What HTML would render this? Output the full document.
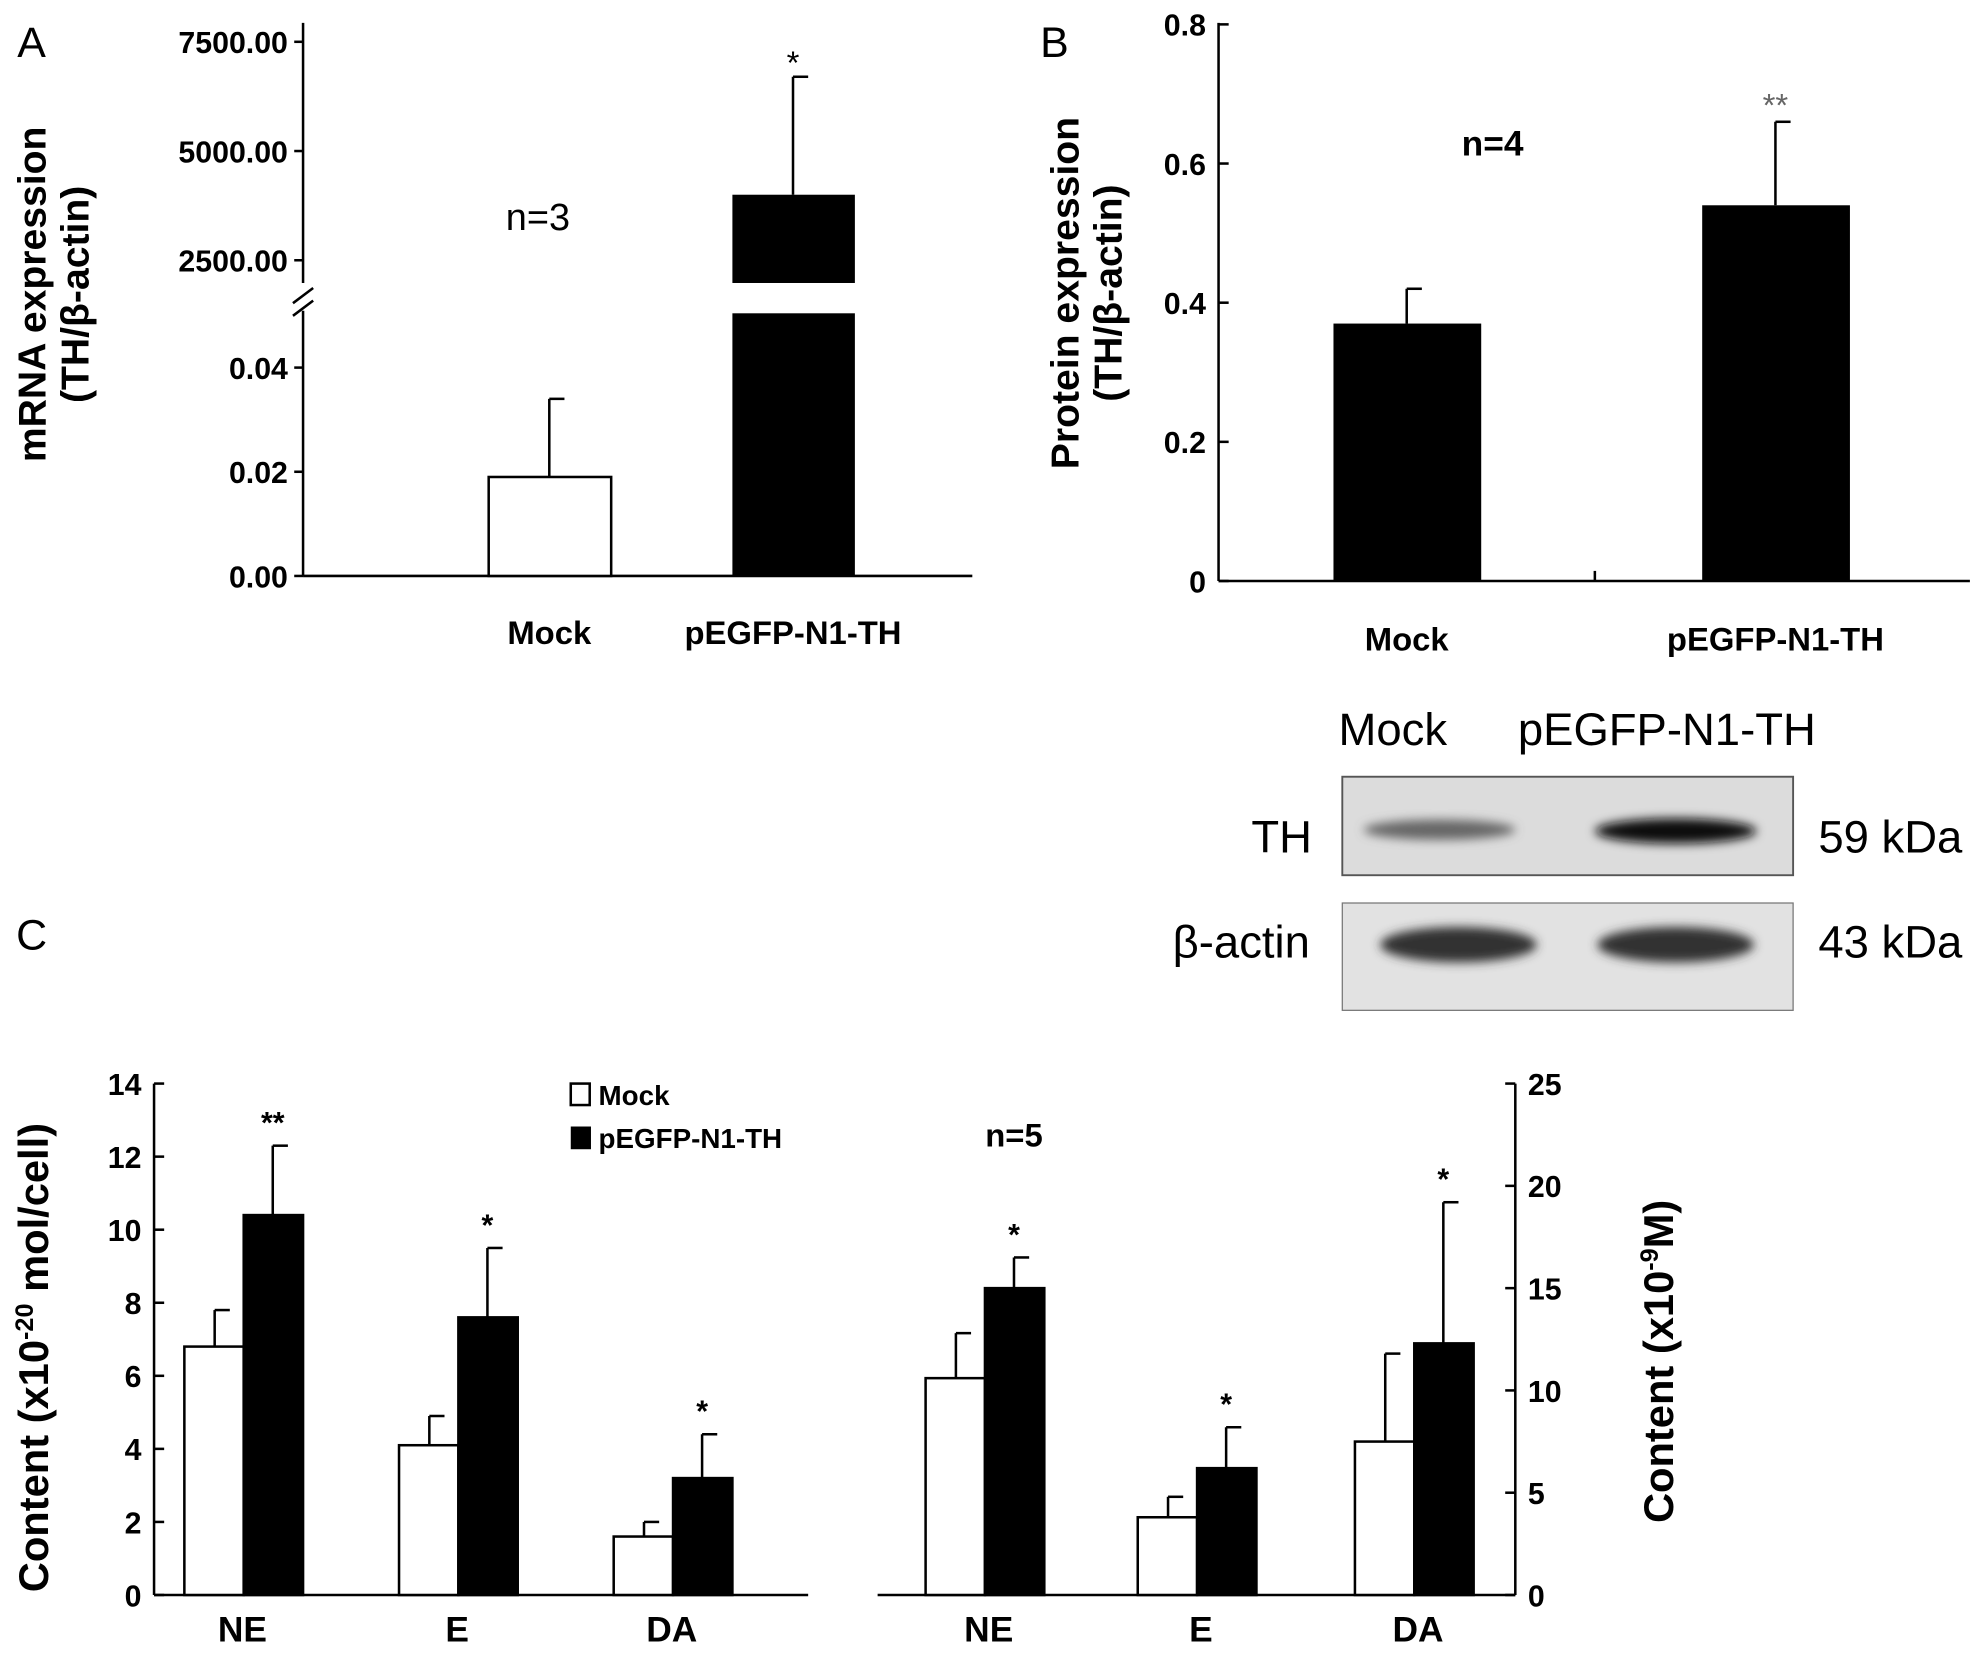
<!DOCTYPE html>
<html><head><meta charset="utf-8"><style>
html,body{margin:0;padding:0;background:#fff}
svg{display:block}
text{font-family:"Liberation Sans",Arial,sans-serif}
.b{font-weight:bold}
</style></head><body>
<svg id="s" width="1980" height="1657" viewBox="0 0 1568 1312" xmlns="http://www.w3.org/2000/svg">
<defs><filter id="bl" x="-20%" y="-50%" width="140%" height="200%"><feGaussianBlur stdDeviation="4"/></filter></defs>
<g id="g" stroke-linecap="butt"></g>
</svg>
<script>
// Panel A
const aCats=['Mock','pEGFP-N1-TH'];
const aLow=[0.019,0.05];
const aErrLow=[0.034,null];
const aHigh=[null,4000];
const aErrHigh=[null,6700];
const aLowTicks=[0,0.02,0.04];
const aHighTicks=[2500,5000,7500];
// Panel B
const bCats=['Mock','pEGFP-N1-TH'];
const bVals=[0.37,0.54];
const bErr=[0.42,0.66];
const bTicks=[0,0.2,0.4,0.6,0.8];
// Panel C
const cCats=['NE','E','DA'];
const cMockL=[6.8,4.1,1.6];
const cMockLErr=[7.8,4.9,2.0];
const cThL=[10.4,7.6,3.2];
const cThLErr=[12.3,9.5,4.4];
const cTicksL=[0,2,4,6,8,10,12,14];
const cMockR=[10.6,3.8,7.5];
const cMockRErr=[12.8,4.8,11.8];
const cThR=[15.0,6.2,12.3];
const cThRErr=[16.5,8.2,19.2];
const cTicksR=[0,5,10,15,20,25];

const NS='http://www.w3.org/2000/svg', G=document.getElementById('g');
function el(t,a,p){const e=document.createElementNS(NS,t);for(const k in a)e.setAttribute(k,a[k]);(p||G).appendChild(e);return e;}
function line(x1,y1,x2,y2,name,w){const e=el('line',{x1,y1,x2,y2,stroke:'#000','stroke-width':w||2});

return e;}
function txt(x,y,s,name,o){o=o||{};const e=el('text',{x,y,'font-size':o.fs||26,'text-anchor':o.a||'middle',class:o.b?'b':''});e.textContent=s;

return e;}
function rect(x,y,w,h,fill,name){const e=el('rect',{x,y,width:w,height:Math.max(0,h),fill,stroke:'#000','stroke-width':2});

return e;}
function errbar(cx,yTop,yBar,name){line(cx,yTop,cx,yBar,name);line(cx,yTop,cx+12,yTop,name+'-cap');}

// ---- Panel A ----
const yAL=v=>456-v*(456-291)/0.04;
const yAH=v=>206-(v-2500)*(206-33)/5000;
txt(25,45,'A','panel-a-label',{fs:34});
line(240,18,240,224,'a-y-axis-upper');line(240,246,240,456,'a-y-axis-lower');
line(232,240,248,228,'a-break-1');line(232,250,248,238,'a-break-2');
line(240,456,770,456,'a-x-axis');
aLowTicks.forEach(v=>{line(233,yAL(v),240,yAL(v),'a-tick');txt(228,yAL(v)+9,v.toFixed(2),'a-tick-label',{a:'end',b:1,fs:24});});
aHighTicks.forEach(v=>{line(233,yAH(v),240,yAH(v),'a-tick');txt(228,yAH(v)+9,v.toFixed(2),'a-tick-label',{a:'end',b:1,fs:24});});
{const t=txt(0,0,'mRNA expression','a-y-title',{b:1,fs:31});t.setAttribute('transform','translate(36,233) rotate(-90)');
const t2=txt(0,0,'(TH/β-actin)','a-y-title-2',{b:1,fs:31});t2.setAttribute('transform','translate(70,233) rotate(-90)');}
const aX=[435,628];
aCats.forEach((c,i)=>{
  const x=aX[i]-48;
  if(aHigh[i]==null){rect(x,yAL(aLow[i]),97,456-yAL(aLow[i]),'#fff','a-bar-mock');errbar(aX[i],yAL(aErrLow[i]),yAL(aLow[i]),'a-error-mock');}
  else{el('rect',{x,y:yAH(aHigh[i]),width:97,height:224-yAH(aHigh[i]),fill:'#000'});
       el('rect',{x,y:248,width:97,height:208,fill:'#000'});
       errbar(aX[i],yAH(aErrHigh[i]),yAH(aHigh[i]),'a-error-th');txt(aX[i],yAH(aErrHigh[i])-2,'*','a-sig',{fs:26});}
  txt(aX[i],510,c,'a-x-label',{b:1,fs:26});
});
txt(426,182,'n=3','a-n-label',{fs:30});

// ---- Panel B ----
const yB=v=>460-v*551;
txt(835,45,'B','panel-b-label',{fs:34});
line(965,18,965,460,'b-y-axis');line(965,460,1560,460,'b-x-axis');line(1263,460,1263,452,'b-x-tick');
bTicks.forEach(v=>{line(965,yB(v),973,yB(v),'b-tick');txt(955,yB(v)+9,v===0?'0':String(v),'b-tick-label',{a:'end',b:1,fs:24});});
{const t=txt(0,0,'Protein expression','b-y-title',{b:1,fs:31});t.setAttribute('transform','translate(854,232) rotate(-90)');
const t2=txt(0,0,'(TH/β-actin)','b-y-title-2',{b:1,fs:31});t2.setAttribute('transform','translate(888,232) rotate(-90)');}
const bX=[1114,1406];
bCats.forEach((c,i)=>{
  el('rect',{x:bX[i]-58,y:yB(bVals[i]),width:117,height:460-yB(bVals[i]),fill:'#000'});
  errbar(bX[i],yB(bErr[i]),yB(bVals[i]),'b-error-'+i);
  txt(bX[i],515,c,'b-x-label',{b:1,fs:26});
});
txt(1406,92,'**','b-sig',{fs:26}).setAttribute('fill','#666');
txt(1182,123,'n=4','b-n-label',{b:1,fs:28});

// blot
txt(1103,590,'Mock','blot-mock-label',{fs:36});
txt(1320,590,'pEGFP-N1-TH','blot-th-label',{fs:36});
el('rect',{x:1063,y:615,width:357,height:78,fill:'#dcdcdc',stroke:'#555','stroke-width':1.5});
el('rect',{x:1063,y:715,width:357,height:85,fill:'#e2e2e2',stroke:'#777','stroke-width':1});
el('ellipse',{cx:1140,cy:657,rx:60,ry:8,fill:'#666',filter:'url(#bl)'});
el('ellipse',{cx:1327,cy:658,rx:64,ry:10,fill:'#111',filter:'url(#bl)'});
el('ellipse',{cx:1155,cy:748,rx:62,ry:14,fill:'#333',filter:'url(#bl)'});
el('ellipse',{cx:1327,cy:748,rx:62,ry:14,fill:'#333',filter:'url(#bl)'});
txt(1015,675,'TH','blot-th-row',{fs:36});
txt(983,758,'β-actin','blot-actin-row',{fs:36});
txt(1497,675,'59 kDa','blot-59kda',{fs:36});
txt(1497,758,'43 kDa','blot-43kda',{fs:36});

// ---- Panel C ----
txt(25,752,'C','panel-c-label',{fs:34});
const yCL=v=>1263-v*405/14;
const yCR=v=>1263-v*405/25;
line(122,858,122,1263,'c-left-y-axis');line(122,1263,640,1263,'c-left-x-axis');
cTicksL.forEach(v=>{line(122,yCL(v),130,yCL(v),'c-left-tick');txt(112,yCL(v)+9,String(v),'c-left-tick-label',{a:'end',b:1,fs:24});});
line(1200,858,1200,1263,'c-right-y-axis');line(695,1263,1200,1263,'c-right-x-axis');
cTicksR.forEach(v=>{line(1192,yCR(v),1200,yCR(v),'c-right-tick');txt(1210,yCR(v)+9,String(v),'c-right-tick-label',{a:'start',b:1,fs:24});});
{const t=el('text',{'font-size':33,'text-anchor':'middle',class:'b',transform:'translate(38,1075) rotate(-90)'});
t.innerHTML='Content (x10<tspan font-size="20" dy="-12">-20</tspan><tspan dy="12"> mol/cell)</tspan>';


const t2=el('text',{'font-size':33,'text-anchor':'middle',class:'b',transform:'translate(1325,1078) rotate(-90)'});
t2.innerHTML='Content (x10<tspan font-size="20" dy="-12">-9</tspan><tspan dy="12">M)</tspan>';

}
const cXL=[193,363,533], cXR=[780,948,1120];
cCats.forEach((c,i)=>{
  let x=cXL[i];
  rect(x-47,yCL(cMockL[i]),47,1263-yCL(cMockL[i]),'#fff','c-left-bar-mock-'+c);
  errbar(x-23,yCL(cMockLErr[i]),yCL(cMockL[i]),'c-left-err-mock-'+c);
  rect(x,yCL(cThL[i]),47,1263-yCL(cThL[i]),'#000','c-left-bar-th-'+c);
  errbar(x+23,yCL(cThLErr[i]),yCL(cThL[i]),'c-left-err-th-'+c);
  txt(x+23,yCL(cThLErr[i])-10,i===0?'**':'*','c-left-sig',{b:1,fs:24});
  txt(x-1,1300,c,'c-left-x-label',{b:1,fs:28});
  x=cXR[i];
  rect(x-47,yCR(cMockR[i]),47,1263-yCR(cMockR[i]),'#fff','c-right-bar-mock-'+c);
  errbar(x-23,yCR(cMockRErr[i]),yCR(cMockR[i]),'c-right-err-mock-'+c);
  rect(x,yCR(cThR[i]),47,1263-yCR(cThR[i]),'#000','c-right-bar-th-'+c);
  errbar(x+23,yCR(cThRErr[i]),yCR(cThR[i]),'c-right-err-th-'+c);
  txt(x+23,yCR(cThRErr[i])-10,'*','c-right-sig',{b:1,fs:24});
  txt(x+3,1300,c,'c-right-x-label',{b:1,fs:28});
});
rect(452,858,15,17,'#fff','legend-mock-swatch');txt(474,875,'Mock','legend-mock',{a:'start',b:1,fs:22});
el('rect',{x:452,y:892,width:16,height:18,fill:'#000'});
txt(474,909,'pEGFP-N1-TH','legend-th',{a:'start',b:1,fs:22});
txt(803,908,'n=5','c-n-label',{b:1,fs:26});
</script>
</body></html>
